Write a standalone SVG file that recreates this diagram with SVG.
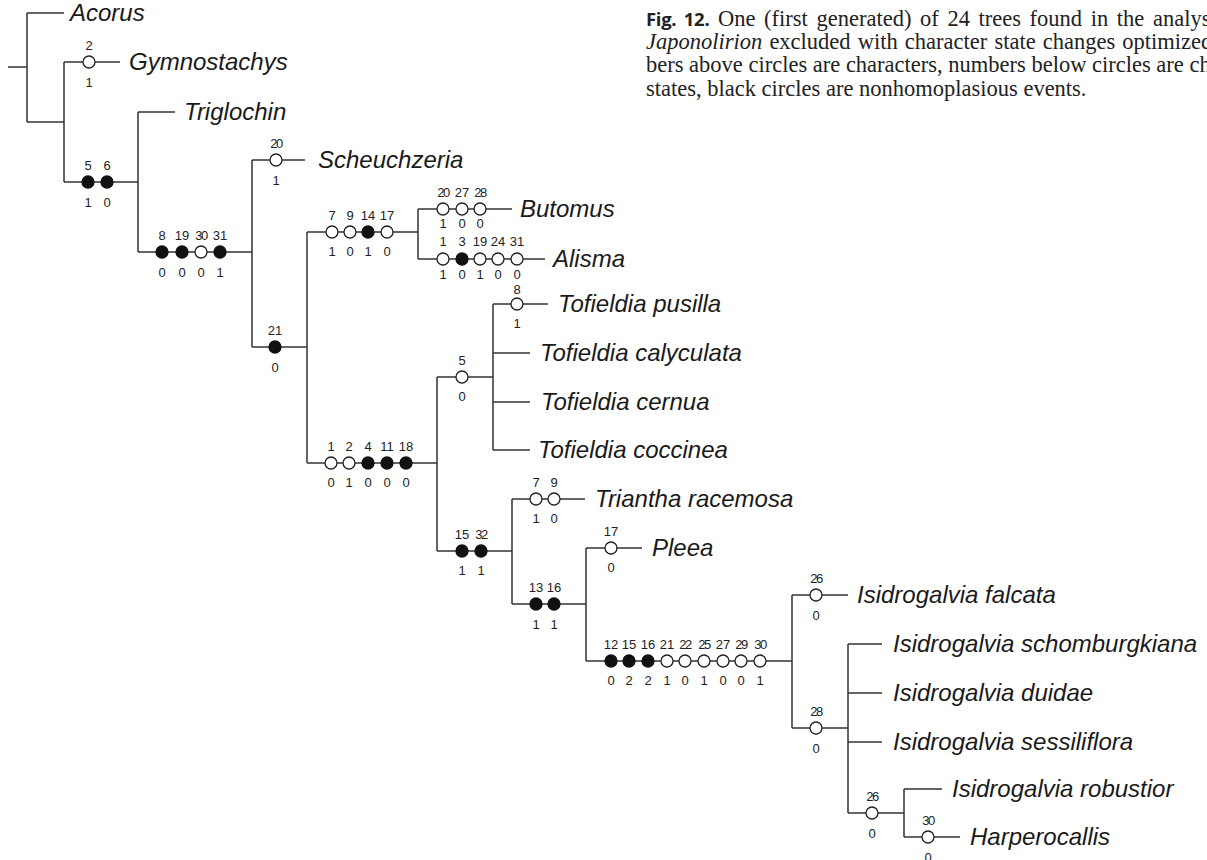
<svg xmlns="http://www.w3.org/2000/svg" width="1207" height="860" viewBox="0 0 1207 860">
<style>
.br{stroke:#333;stroke-width:1.5;fill:none}
.o{fill:#fff;stroke:#222;stroke-width:1.3}
.b{fill:#111;stroke:#111;stroke-width:1.3}
.tx{font-family:"Liberation Sans",Arial,sans-serif;font-style:italic;font-size:24px;fill:#1a1a1a}
.n{font-family:"Liberation Sans",Arial,sans-serif;font-size:13px;fill:#222;text-anchor:middle}
.t{letter-spacing:-1.5px}
.cap{font-family:"Liberation Serif","Times New Roman",serif;font-size:22.5px;fill:#222}
.capb{font-family:"Open Sans","Liberation Sans",sans-serif;font-weight:bold;font-size:18.5px;letter-spacing:-0.3px}
</style>
<rect width="1207" height="860" fill="#fff"/>
<g id="caption">
<text class="cap" x="646" y="26" word-spacing="3"><tspan class="capb">Fig. 12.</tspan> One (first generated) of 24 trees found in the analys</text>
<text class="cap" x="646" y="49" word-spacing="1.5"><tspan font-style="italic">Japonolirion</tspan> excluded with character state changes optimized</text>
<text class="cap" x="646" y="72">bers above circles are characters, numbers below circles are ch</text>
<text class="cap" x="646" y="96">states, black circles are nonhomoplasious events.</text>
</g>
<g id="connectors" class="br">
<path d="M8,67H27M27,13V122M27,13H64M27,122H64"/>
<path d="M64,62V182M64,62H120M64,182H138"/>
<path d="M138,112V252M138,112H175M138,252H252"/>
<path d="M252,160V347M252,160H305M252,347H307"/>
<path d="M307,232V463M307,232H418M307,463H437"/>
<path d="M418,209V259M418,209H512M418,259H545"/>
<path d="M437,377V551M437,377H493M437,551H512"/>
<path d="M493,304V450M493,304H548M493,353H530M493,402H530M493,450H530"/>
<path d="M512,499V604M512,499H585M512,604H586"/>
<path d="M586,548V661M586,548H642M586,661H792"/>
<path d="M792,595V728M792,595H848M792,728H848"/>
<path d="M848,644V813M848,644H882M848,693H882M848,742H882M848,813H904"/>
<path d="M904,789V837M904,789H942M904,837H960"/>
</g>
<g id="taxa" class="tx">
<g id="acorus"><text x="70" y="21">Acorus</text></g>
<g id="gymnostachys"><text x="129" y="70">Gymnostachys</text></g>
<g id="triglochin"><text x="184" y="120">Triglochin</text></g>
<g id="scheuchzeria"><text x="318" y="168">Scheuchzeria</text></g>
<g id="butomus"><text x="520" y="217">Butomus</text></g>
<g id="alisma"><text x="553" y="267">Alisma</text></g>
<g id="tofieldia-pusilla"><text x="558" y="312">Tofieldia pusilla</text></g>
<g id="tofieldia-calyculata"><text x="540" y="361">Tofieldia calyculata</text></g>
<g id="tofieldia-cernua"><text x="541" y="410">Tofieldia cernua</text></g>
<g id="tofieldia-coccinea"><text x="538" y="458">Tofieldia coccinea</text></g>
<g id="triantha-racemosa"><text x="595" y="507">Triantha racemosa</text></g>
<g id="pleea"><text x="652" y="556">Pleea</text></g>
<g id="isidrogalvia-falcata"><text x="857" y="603">Isidrogalvia falcata</text></g>
<g id="isidrogalvia-schomburgkiana"><text x="893" y="652">Isidrogalvia schomburgkiana</text></g>
<g id="isidrogalvia-duidae"><text x="893" y="701">Isidrogalvia duidae</text></g>
<g id="isidrogalvia-sessiliflora"><text x="893" y="750">Isidrogalvia sessiliflora</text></g>
<g id="isidrogalvia-robustior"><text x="952" y="797">Isidrogalvia robustior</text></g>
<g id="harperocallis"><text x="970" y="845">Harperocallis</text></g>
</g>
<g id="changes">
<g id="ch-gymnostachys">
<circle class="o" cx="89" cy="62" r="6"/><text class="n" x="89" y="50">2</text><text class="n" x="89" y="87">1</text>
</g>
<g id="ch-5-6">
<circle class="b" cx="88" cy="182" r="6"/><circle class="b" cx="107" cy="182" r="6"/>
<text class="n" x="88" y="170">5</text><text class="n" x="107" y="170">6</text>
<text class="n" x="88" y="207">1</text><text class="n" x="107" y="207">0</text>
</g>
<g id="ch-8-31">
<circle class="b" cx="162" cy="252" r="6"/><circle class="b" cx="182" cy="252" r="6"/><circle class="o" cx="201" cy="252" r="6"/><circle class="b" cx="220" cy="252" r="6"/>
<text class="n" x="162" y="240">8</text><text class="n" x="182" y="240">19</text><text class="n t" x="201" y="240">30</text><text class="n" x="220" y="240">31</text>
<text class="n" x="162" y="277">0</text><text class="n" x="182" y="277">0</text><text class="n" x="201" y="277">0</text><text class="n" x="220" y="277">1</text>
</g>
<g id="ch-scheuchzeria">
<circle class="o" cx="276" cy="160" r="6"/><text class="n t" x="276" y="148">20</text><text class="n" x="276" y="185">1</text>
</g>
<g id="ch-21">
<circle class="b" cx="275" cy="347" r="6"/><text class="n" x="275" y="335">21</text><text class="n" x="275" y="372">0</text>
</g>
<g id="ch-7-17">
<circle class="o" cx="332" cy="232" r="6"/><circle class="o" cx="350" cy="232" r="6"/><circle class="b" cx="368" cy="232" r="6"/><circle class="o" cx="387" cy="232" r="6"/>
<text class="n" x="332" y="220">7</text><text class="n" x="350" y="220">9</text><text class="n" x="368" y="220">14</text><text class="n" x="387" y="220">17</text>
<text class="n" x="332" y="256">1</text><text class="n" x="350" y="256">0</text><text class="n" x="368" y="256">1</text><text class="n" x="387" y="256">0</text>
</g>
<g id="ch-butomus">
<circle class="o" cx="443" cy="209" r="6"/><circle class="o" cx="462" cy="209" r="6"/><circle class="o" cx="480" cy="209" r="6"/>
<text class="n t" x="443" y="197">20</text><text class="n" x="462" y="197">27</text><text class="n t" x="480" y="197">28</text>
<text class="n" x="443" y="228">1</text><text class="n" x="462" y="228">0</text><text class="n" x="480" y="228">0</text>
</g>
<g id="ch-alisma">
<circle class="o" cx="443" cy="259" r="6"/><circle class="b" cx="462" cy="259" r="6"/><circle class="o" cx="480" cy="259" r="6"/><circle class="o" cx="498" cy="259" r="6"/><circle class="o" cx="517" cy="259" r="6"/>
<text class="n" x="443" y="246">1</text><text class="n" x="462" y="246">3</text><text class="n" x="480" y="246">19</text><text class="n" x="498" y="246">24</text><text class="n" x="517" y="246">31</text>
<text class="n" x="443" y="279">1</text><text class="n" x="462" y="279">0</text><text class="n" x="480" y="279">1</text><text class="n" x="498" y="279">0</text><text class="n" x="517" y="279">0</text>
</g>
<g id="ch-1-18">
<circle class="o" cx="331" cy="463" r="6"/><circle class="o" cx="349" cy="463" r="6"/><circle class="b" cx="368" cy="463" r="6"/><circle class="b" cx="387" cy="463" r="6"/><circle class="b" cx="406" cy="463" r="6"/>
<text class="n" x="331" y="451">1</text><text class="n" x="349" y="451">2</text><text class="n" x="368" y="451">4</text><text class="n" x="387" y="451">11</text><text class="n" x="406" y="451">18</text>
<text class="n" x="331" y="487">0</text><text class="n" x="349" y="487">1</text><text class="n" x="368" y="487">0</text><text class="n" x="387" y="487">0</text><text class="n" x="406" y="487">0</text>
</g>
<g id="ch-5">
<circle class="o" cx="462" cy="377" r="6"/><text class="n" x="462" y="365">5</text><text class="n" x="462" y="401">0</text>
</g>
<g id="ch-pusilla">
<circle class="o" cx="517" cy="304" r="6"/><text class="n" x="517" y="294">8</text><text class="n" x="517" y="328">1</text>
</g>
<g id="ch-15-32">
<circle class="b" cx="462" cy="551" r="6"/><circle class="b" cx="481" cy="551" r="6"/>
<text class="n" x="462" y="539">15</text><text class="n t" x="481" y="539">32</text>
<text class="n" x="462" y="575">1</text><text class="n" x="481" y="575">1</text>
</g>
<g id="ch-triantha">
<circle class="o" cx="536" cy="499" r="6"/><circle class="o" cx="554" cy="499" r="6"/>
<text class="n" x="536" y="487">7</text><text class="n" x="554" y="487">9</text>
<text class="n" x="536" y="523">1</text><text class="n" x="554" y="523">0</text>
</g>
<g id="ch-13-16">
<circle class="b" cx="536" cy="604" r="6"/><circle class="b" cx="554" cy="604" r="6"/>
<text class="n" x="536" y="592">13</text><text class="n" x="554" y="592">16</text>
<text class="n" x="536" y="629">1</text><text class="n" x="554" y="629">1</text>
</g>
<g id="ch-pleea">
<circle class="o" cx="611" cy="548" r="6"/><text class="n" x="611" y="536">17</text><text class="n" x="611" y="572">0</text>
</g>
<g id="ch-12-30">
<circle class="b" cx="611" cy="661" r="6"/><circle class="b" cx="629" cy="661" r="6"/><circle class="b" cx="648" cy="661" r="6"/><circle class="o" cx="667" cy="661" r="6"/><circle class="o" cx="685" cy="661" r="6"/><circle class="o" cx="704" cy="661" r="6"/><circle class="o" cx="723" cy="661" r="6"/><circle class="o" cx="741" cy="661" r="6"/><circle class="o" cx="760" cy="661" r="6"/>
<text class="n" x="611" y="649">12</text><text class="n" x="629" y="649">15</text><text class="n" x="648" y="649">16</text><text class="n" x="667" y="649">21</text><text class="n t" x="685" y="649">22</text><text class="n t" x="704" y="649">25</text><text class="n" x="723" y="649">27</text><text class="n t" x="741" y="649">29</text><text class="n t" x="760" y="649">30</text>
<text class="n" x="611" y="685">0</text><text class="n" x="629" y="685">2</text><text class="n" x="648" y="685">2</text><text class="n" x="667" y="685">1</text><text class="n" x="685" y="685">0</text><text class="n" x="704" y="685">1</text><text class="n" x="723" y="685">0</text><text class="n" x="741" y="685">0</text><text class="n" x="760" y="685">1</text>
</g>
<g id="ch-falcata">
<circle class="o" cx="816" cy="595" r="6"/><text class="n t" x="816" y="583">26</text><text class="n" x="816" y="620">0</text>
</g>
<g id="ch-28">
<circle class="o" cx="816" cy="728" r="6"/><text class="n t" x="816" y="716">28</text><text class="n" x="816" y="753">0</text>
</g>
<g id="ch-26">
<circle class="o" cx="872" cy="813" r="6"/><text class="n t" x="872" y="801">26</text><text class="n" x="872" y="838">0</text>
</g>
<g id="ch-harperocallis">
<circle class="o" cx="928" cy="837" r="6"/><text class="n t" x="928" y="825">30</text><text class="n" x="928" y="862">0</text>
</g>
</g>
</svg>
